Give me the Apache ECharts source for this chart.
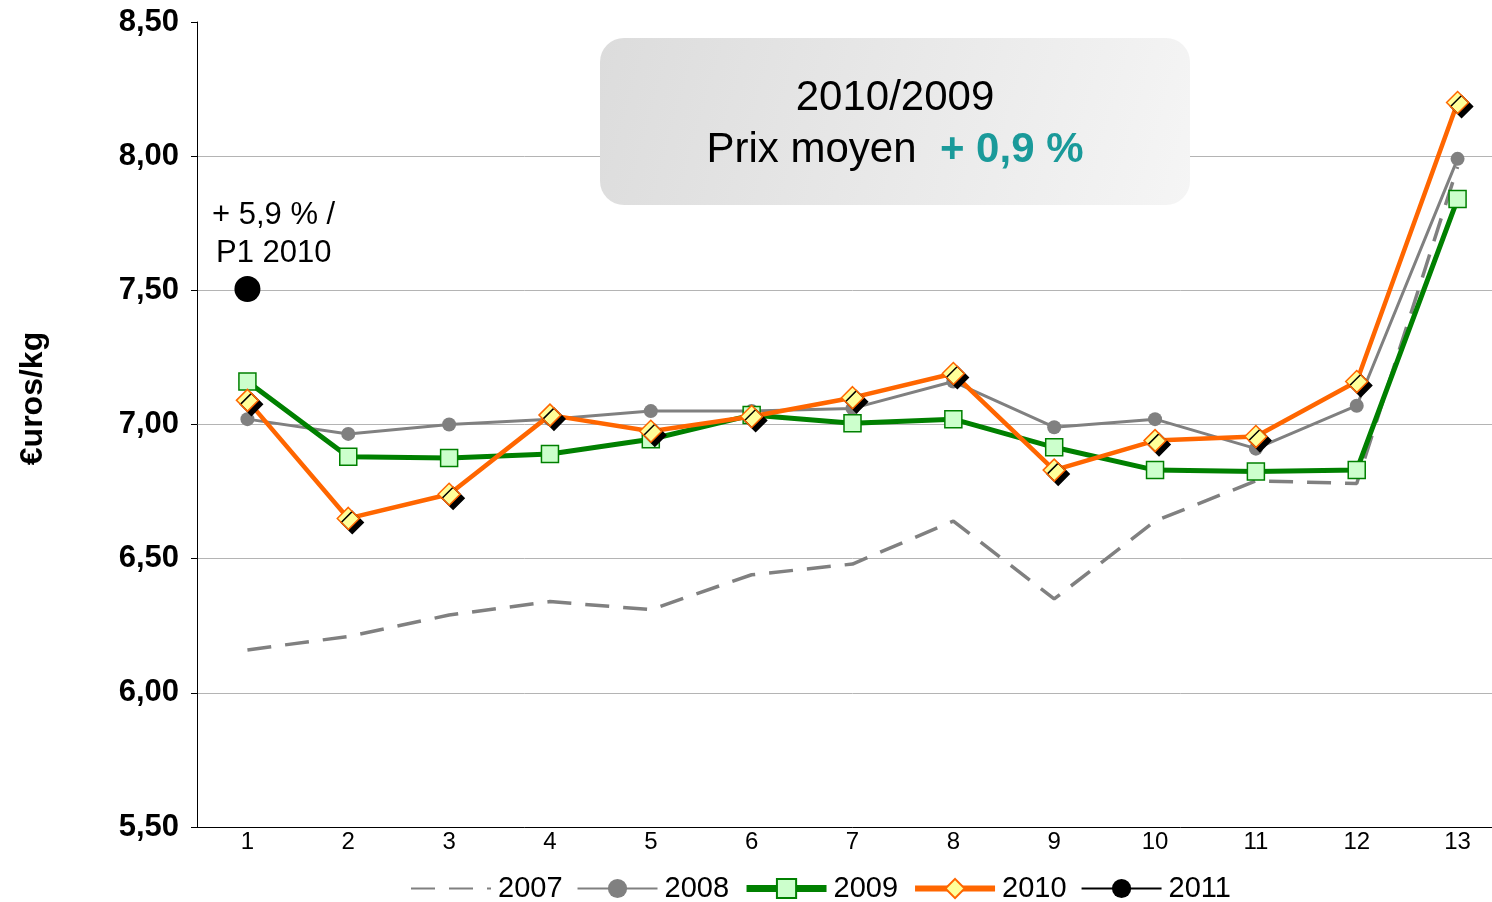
<!DOCTYPE html>
<html>
<head>
<meta charset="utf-8">
<script src="https://cdn.jsdelivr.net/npm/echarts@6/dist/echarts.min.js"></script>
<style>
  html, body { margin: 0; padding: 0; background: #fff; overflow: hidden; }
  #chart { width: 1508px; height: 902px; }
</style>
</head>
<body>
<div id="chart"></div>
<script>
const periods = ['1', '2', '3', '4', '5', '6', '7', '8', '9', '10', '11', '12', '13']
const y2007 = [6.16, 6.21, 6.29, 6.34, 6.31, 6.44, 6.48, 6.64, 6.35, 6.64, 6.79, 6.78, 7.96]
const y2008 = [7.02, 6.965, 7.00, 7.02, 7.05, 7.05, 7.06, 7.16, 6.99, 7.02, 6.91, 7.07, 7.99]
const y2009 = [7.16, 6.88, 6.875, 6.89, 6.945, 7.035, 7.005, 7.02, 6.915, 6.83, 6.825, 6.83, 7.84]
const y2010 = [7.09, 6.65, 6.74, 7.035, 6.975, 7.03, 7.10, 7.19, 6.83, 6.94, 6.955, 7.16, 8.20]
const y2011 = [7.505]

const font = '"Liberation Sans", Arial, sans-serif'
const chart = echarts.init(document.getElementById('chart'))

chart.setOption({
  animation: false,
  textStyle: { fontFamily: font },
  grid: { left: 197, top: 22, right: 0, bottom: 75 },
  legend: {
    left: 405,
    top: 869,
    itemWidth: 80,
    itemHeight: 24,
    itemGap: 14,
    textStyle: { fontSize: 29, color: '#000', fontFamily: font, padding: [0, 0, 0, 2] },
    data: [
      { name: '2007', itemStyle: { opacity: 0 } },
      { name: '2008' },
      { name: '2009', lineStyle: { width: 7 } },
      { name: '2010', lineStyle: { width: 6 } },
      { name: '2011' }
    ]
  },
  xAxis: {
    type: 'category',
    data: periods,
    boundaryGap: true,
    axisLine: { lineStyle: { color: '#000', width: 1 } },
    axisTick: { length: 7, lineStyle: { color: '#000' } },
    axisLabel: { fontSize: 24, color: '#000', margin: 3 }
  },
  yAxis: {
    type: 'value',
    min: 5.5,
    max: 8.5,
    interval: 0.5,
    name: '€uros/kg',
    nameLocation: 'middle',
    nameRotate: 90,
    nameGap: 148,
    nameTextStyle: { fontSize: 32, fontWeight: 'bold', color: '#000', padding: [0, 0, 0, 52] },
    axisLine: { show: true, lineStyle: { color: '#000', width: 1 } },
    axisTick: { show: true, length: 6, lineStyle: { color: '#000' } },
    axisLabel: {
      fontSize: 31,
      fontWeight: 'bold',
      color: '#000',
      margin: 18,
      formatter: (v) => v.toFixed(2).replace('.', ',')
    },
    splitLine: { show: true, showMaxLine: false, lineStyle: { color: '#b4b4b4', width: 1 } }
  },
  graphic: [
    {
      type: 'rect',
      shape: { x: 600, y: 38, width: 590, height: 167, r: 24 },
      style: {
        fill: new echarts.graphic.LinearGradient(0, 0, 1, 1, [
          { offset: 0, color: '#dcdcdc' },
          { offset: 1, color: '#f5f5f5' }
        ])
      },
      z: 10
    },
    {
      type: 'text',
      x: 895, y: 98,
      style: { text: '2010/2009', font: '42px ' + font, fill: '#000', align: 'center', verticalAlign: 'middle' },
      z: 11
    },
    {
      type: 'text',
      x: 895, y: 150,
      style: {
        text: '{a|Prix moyen  }{b|+ 0,9 %}',
        align: 'center',
        verticalAlign: 'middle',
        rich: {
          a: { fontSize: 42, fontFamily: font, fill: '#000' },
          b: { fontSize: 42, fontFamily: font, fontWeight: 'bold', fill: '#1a9a9a' }
        }
      },
      z: 11
    },
    {
      type: 'text',
      x: 212, y: 215,
      style: { text: '+ 5,9 % /', font: '31px ' + font, fill: '#000', verticalAlign: 'middle' },
      z: 11
    },
    {
      type: 'text',
      x: 216, y: 253,
      style: { text: 'P1 2010', font: '31px ' + font, fill: '#000', verticalAlign: 'middle' },
      z: 11
    }
  ],
  series: [
    {
      name: '2007',
      type: 'line',
      data: y2007,
      symbol: 'none',
      color: '#808080',
      lineStyle: { color: '#808080', width: 3.5, type: [24, 14] },
      z: 2
    },
    {
      name: '2008',
      type: 'line',
      data: y2008,
      symbol: 'circle',
      symbolSize: 14,
      color: '#808080',
      lineStyle: { color: '#808080', width: 3 },
      itemStyle: { color: '#808080' },
      z: 3
    },
    {
      name: '2009',
      type: 'line',
      data: y2009,
      symbol: 'rect',
      symbolSize: 17,
      color: '#008000',
      lineStyle: { color: '#008000', width: 5 },
      itemStyle: { color: '#ccffcc', borderColor: '#008000', borderWidth: 1.5 },
      z: 4
    },
    {
      name: '2010',
      type: 'line',
      data: y2010,
      symbol: 'diamond',
      symbolSize: 22,
      color: '#ff6600',
      lineStyle: { color: '#ff6600', width: 4.5 },
      itemStyle: {
        color: '#ffff99', borderColor: '#ff6600', borderWidth: 1.5,
        shadowColor: '#000', shadowBlur: 0, shadowOffsetX: 4, shadowOffsetY: 4
      },
      z: 5
    },
    {
      name: '2011',
      type: 'line',
      data: y2011,
      symbol: 'circle',
      symbolSize: 26,
      color: '#000',
      lineStyle: { color: '#000', width: 3 },
      itemStyle: { color: '#000' },
      z: 6
    }
  ]
})
</script>
</body>
</html>
